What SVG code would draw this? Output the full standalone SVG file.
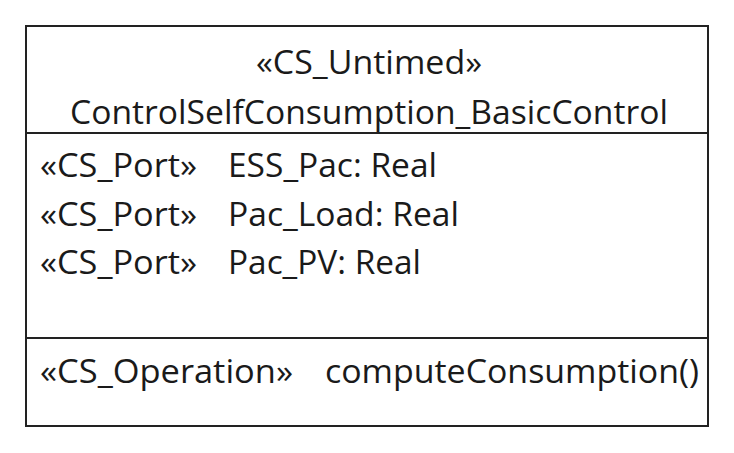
<svg xmlns="http://www.w3.org/2000/svg" width="734" height="453" viewBox="0 0 734 453">
<style>
.t{font-family:"Open Sans","Noto Sans","DejaVu Sans",sans-serif;font-size:33px;fill:#1a1a1a}
.b{fill:#fff;stroke:#222;stroke-width:2}
.l{stroke:#222;stroke-width:2}
</style>
<rect width="734" height="453" fill="#fff"/>
<g id="ControlSelfConsumption_BasicControl">
<rect class="b" x="26" y="26" width="682" height="400"/>
<line class="l" x1="26" y1="133" x2="708" y2="133"/>
<line class="l" x1="26" y1="338" x2="708" y2="338"/>
<text class="t" x="369" y="74" text-anchor="middle" textLength="226" lengthAdjust="spacingAndGlyphs">«CS_Untimed»</text>
<text class="t" x="369" y="124" text-anchor="middle" textLength="598" lengthAdjust="spacingAndGlyphs">ControlSelfConsumption_BasicControl</text>
<text class="t" x="40" y="177" textLength="157" lengthAdjust="spacingAndGlyphs">«CS_Port»</text>
<text class="t" x="228" y="177" textLength="209" lengthAdjust="spacingAndGlyphs">ESS_Pac: Real</text>
<text class="t" x="40" y="226" textLength="157" lengthAdjust="spacingAndGlyphs">«CS_Port»</text>
<text class="t" x="228" y="226" textLength="231" lengthAdjust="spacingAndGlyphs">Pac_Load: Real</text>
<text class="t" x="40" y="274" textLength="157" lengthAdjust="spacingAndGlyphs">«CS_Port»</text>
<text class="t" x="228" y="274" textLength="193" lengthAdjust="spacingAndGlyphs">Pac_PV: Real</text>
<text class="t" x="40" y="383" textLength="253" lengthAdjust="spacingAndGlyphs">«CS_Operation»</text>
<text class="t" x="325" y="383" textLength="374" lengthAdjust="spacingAndGlyphs">computeConsumption()</text>
</g>
</svg>
